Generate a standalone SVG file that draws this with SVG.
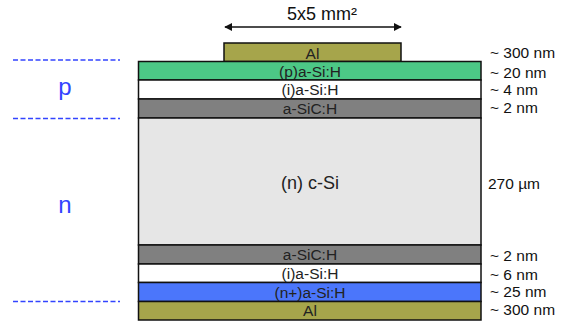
<svg xmlns="http://www.w3.org/2000/svg" width="561" height="322" viewBox="0 0 561 322">
<style>
.l{stroke:#111;stroke-width:1.5}
.t{font-family:"Liberation Sans",Arial,sans-serif;font-size:15.5px;fill:#222;text-anchor:middle}
.r{font-family:"Liberation Sans",Arial,sans-serif;font-size:15.5px;fill:#111}
.d{stroke:#3344ff;stroke-width:1.5;stroke-dasharray:5,2.5}
.b{font-family:"Liberation Sans",Arial,sans-serif;font-size:24px;fill:#3344ff;text-anchor:middle}
</style>
<defs>
<marker id="ah" viewBox="0 0 10 10" refX="9" refY="5" markerWidth="8" markerHeight="8" orient="auto-start-reverse" markerUnits="userSpaceOnUse">
<path d="M0,0 L10,5 L0,10 z" fill="#111"/>
</marker>
</defs>
<rect width="561" height="322" fill="#fff"/>
<g id="connectors">
<line x1="225" y1="27" x2="401" y2="27" stroke="#111" stroke-width="1.5" marker-start="url(#ah)" marker-end="url(#ah)"/>
<line class="d" x1="13" y1="60" x2="120" y2="60"/>
<line class="d" x1="13" y1="118.5" x2="120" y2="118.5"/>
<line class="d" x1="13" y1="301.5" x2="120" y2="301.5"/>
</g>
<text class="r" x="322" y="20" text-anchor="middle" style="font-size:18px">5x5 mm²</text>
<g id="al-top"><rect class="l" x="224" y="43" width="177" height="18.5" fill="#a6a54b"/><text class="t" x="312.5" y="58.5">Al</text></g>
<g id="p-asi"><rect class="l" x="138.5" y="61.5" width="342.5" height="18.5" fill="#4cc886"/><text class="t" x="310" y="76.5">(p)a-Si:H</text></g>
<g id="i-asi-top"><rect class="l" x="138.5" y="80" width="342.5" height="19" fill="#fff"/><text class="t" x="310" y="95">(i)a-Si:H</text></g>
<g id="asic-top"><rect class="l" x="138.5" y="99" width="342.5" height="19" fill="#808080"/><text class="t" x="310" y="113.5">a-SiC:H</text></g>
<g id="csi"><rect class="l" x="138.5" y="118" width="342.5" height="127" fill="#e6e6e6"/><text class="t" x="310" y="189" style="font-size:18px">(n) c-Si</text></g>
<g id="asic-bot"><rect class="l" x="138.5" y="245" width="342.5" height="19" fill="#808080"/><text class="t" x="310" y="260">a-SiC:H</text></g>
<g id="i-asi-bot"><rect class="l" x="138.5" y="264" width="342.5" height="18.5" fill="#fff"/><text class="t" x="310" y="278.5">(i)a-Si:H</text></g>
<g id="n-asi"><rect class="l" x="138.5" y="282.5" width="342.5" height="19" fill="#4b76fb"/><text class="t" x="310" y="297.5">(n+)a-Si:H</text></g>
<g id="al-bot"><rect class="l" x="138.5" y="301.5" width="342.5" height="18.5" fill="#a6a54b"/><text class="t" x="310" y="316">Al</text></g>
<g id="thickness">
<text class="r" x="490" y="58">~ 300 nm</text>
<text class="r" x="490" y="78">~ 20 nm</text>
<text class="r" x="490" y="95">~ 4 nm</text>
<text class="r" x="490" y="113">~ 2 nm</text>
<text class="r" x="488" y="189">270 µm</text>
<text class="r" x="490" y="261">~ 2 nm</text>
<text class="r" x="490" y="280">~ 6 nm</text>
<text class="r" x="490" y="297">~ 25 nm</text>
<text class="r" x="490" y="315">~ 300 nm</text>
</g>
<g id="regions">
<text class="b" x="65" y="95">p</text>
<text class="b" x="65" y="213">n</text>
</g>
</svg>
